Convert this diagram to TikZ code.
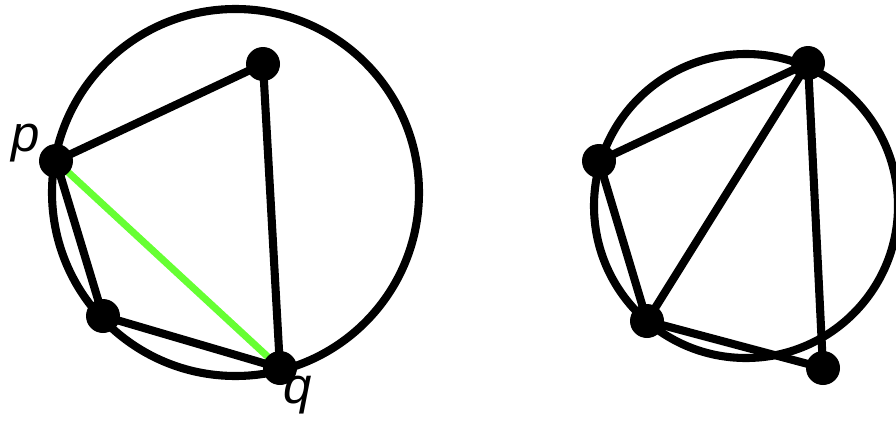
\documentclass[tikz,border=0pt]{standalone}
\usepackage{fontspec}
\setmainfont{Liberation Sans}
\definecolor{chordgreen}{RGB}{102,255,51}
\begin{document}
\begin{tikzpicture}[line width=4.6pt, every node/.style={font=\fontsize{29}{34}\selectfont\itshape},
  dot/.style={circle, fill=black, inner sep=0pt, minimum size=0.68cm}]
  \useasboundingbox (0,0) rectangle (17.92,8.42);
  % left picture
  \coordinate (O) at (4.71,4.57);
  \coordinate (A) at (5.26,7.14);
  \coordinate (P) at (1.12,5.20);
  \coordinate (B) at (2.06,2.10);
  \coordinate (Q) at (5.60,1.06);
  \draw (O) circle (3.67);
  \draw (P)--(A)--(Q)--(B)--(P);
  \draw[chordgreen, line width=4pt] (P)--(Q);
  \foreach \v in {A,P,B,Q} \node[dot] (d\v) at (\v) {};
  \node (lp) at (0.52,5.56) {p};
  \node (lq) at (5.96,0.52) {q};
  % right picture
  \coordinate (O2) at (14.92,4.30);
  \coordinate (T) at (16.16,7.16);
  \coordinate (L) at (11.98,5.20);
  \coordinate (M) at (12.94,2.00);
  \coordinate (R) at (16.46,1.06);
  \draw (O2) circle (3.04);
  \draw (L)--(T)--(M)--(L) (T)--(R)--(M);
  \foreach \v in {T,L,M,R} \node[dot] (d\v) at (\v) {};
\end{tikzpicture}
\end{document}
